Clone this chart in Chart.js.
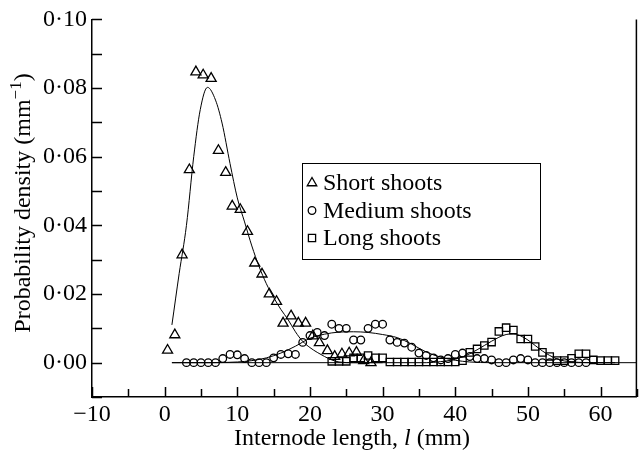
<!DOCTYPE html>
<html>
<head>
<meta charset="utf-8">
<script src="https://cdn.jsdelivr.net/npm/chart.js@4.4.1/dist/chart.umd.min.js"></script>
<style>
  html, body { margin: 0; padding: 0; background: #fff; }
</style>
</head>
<body>
<canvas id="myChart" width="644" height="452"></canvas>
<script>
// ---- data ----
var xTicks = [-10, 0, 10, 20, 30, 40, 50, 60];
var yTicks = ['0·00', '0·02', '0·04', '0·06', '0·08', '0·10'];

// short shoots (triangles)
var shortL = [0.4, 1.4, 2.4, 3.4, 4.3, 5.3, 6.4, 7.4, 8.4, 9.3, 10.4, 11.4, 12.4, 13.4, 14.4, 15.4,
    16.3, 17.4, 18.4, 19.4, 20.4, 21.3, 22.4, 23.4, 24.4, 25.4, 26.4, 27.4, 28.4];
var shortP = [0.0036, 0.0081, 0.0314, 0.0562, 0.0847, 0.0838, 0.0828, 0.0618, 0.0554, 0.0456, 0.0446,
    0.0382, 0.0290, 0.0258, 0.0200, 0.0178, 0.0115, 0.0136, 0.0115, 0.0115, 0.0078, 0.0058, 0.0035,
    0.0018, 0.0025, 0.0028, 0.0030, 0.0006, 0.0000];

// medium shoots (circles)
var mediumL = [3, 4, 5, 6, 7, 8, 9, 10, 11, 12, 13, 14, 15, 16, 17, 18, 19, 20, 21, 22, 23, 24, 25,
    26, 27, 28, 29, 30, 31, 32, 33, 34, 35, 36, 37, 38, 39, 40, 41, 42, 43, 44, 45, 46, 47, 48, 49,
    50, 51, 52, 53, 54, 55, 56, 57, 58];
var mediumP = [0, 0, 0, 0, 0, 0.0012, 0.0024, 0.0023, 0.0012, 0, 0, 0, 0.0014, 0.0024, 0.0026, 0.0024,
    0.0059, 0.0079, 0.0088, 0.0079, 0.0112, 0.0100, 0.0100, 0.0066, 0.0066, 0.0100, 0.0112, 0.0112,
    0.0066, 0.0059, 0.0057, 0.0045, 0.0028, 0.0021, 0.0014, 0.0008, 0.0012, 0.0024, 0.0028, 0.0018,
    0.0012, 0.0012, 0.0008, 0, 0, 0.0008, 0.0012, 0.0008, 0, 0, 0, 0, 0, 0, 0, 0];

// long shoots (squares)
var longL = [23, 24, 25, 26, 27, 28, 29, 30, 31, 32, 33, 34, 35, 36, 37, 38, 39, 40, 41, 42, 43, 44,
    45, 46, 47, 48, 49, 50, 51, 52, 53, 54, 55, 56, 57, 58, 59, 60, 61, 62];
var longP = [0.0004, 0.0004, 0.0004, 0.0014, 0.0014, 0.0021, 0.0014, 0.0014, 0.0002, 0.0002, 0.0002,
    0.0002, 0.0002, 0.0002, 0.0002, 0.0002, 0.0002, 0.0002, 0.0006, 0.0030, 0.0040, 0.0050, 0.0060,
    0.0091, 0.0102, 0.0095, 0.0069, 0.0069, 0.0047, 0.0030, 0.0018, 0.0006, 0.0006, 0.0013, 0.0026,
    0.0026, 0.0008, 0.0006, 0.0006, 0.0006];

// fitted curves
var shortFitL = [1, 2, 3, 4, 4.9, 5.9, 7, 7.9, 9, 10, 11, 12, 13, 14, 15, 16, 17, 18, 19, 20, 21, 22, 23, 24, 26, 30];
var shortFitP = [0.011, 0.026, 0.040, 0.060, 0.0737, 0.0802, 0.0765, 0.0698, 0.058, 0.048, 0.041, 0.034,
    0.028, 0.023, 0.019, 0.0155, 0.0125, 0.009, 0.0062, 0.0044, 0.003, 0.0018, 0.0008, 0.0002, 0, 0];

var mediumFitL = [1, 6, 10, 12, 14, 16, 18, 20, 22, 24, 26, 28, 30, 32, 34, 36, 38, 40, 42, 45, 62];
var mediumFitP = [0, 0, 0.0002, 0.0006, 0.0014, 0.0028, 0.0048, 0.0071, 0.0083, 0.0089, 0.0090, 0.0088,
    0.0082, 0.0073, 0.0054, 0.0031, 0.0016, 0.0007, 0.0002, 0, 0];

var longFitL = [1, 36, 38, 40, 42, 44, 46, 47, 48, 49, 50, 51, 52, 53, 54, 55, 57, 59, 65];
var longFitP = [0, 0, 0.0003, 0.0010, 0.0026, 0.0050, 0.0074, 0.0082, 0.0084, 0.0078, 0.0066, 0.0050,
    0.0034, 0.0021, 0.0011, 0.0005, 0.0001, 0, 0];

var seriesNames = ['Short shoots', 'Medium shoots', 'Long shoots'];

function pts(xs, ys) {
    return xs.map(function (x, i) { return { x: x, y: ys[i] }; });
}

var serif = "'Liberation Serif', 'DejaVu Serif', serif";
var FS = 24;

function fitLine(xs, ys) {
    return {
        data: pts(xs, ys),
        showLine: true,
        borderColor: '#000',
        borderWidth: 1,
        pointRadius: 0,
        cubicInterpolationMode: 'monotone',
        fill: false
    };
}

function markers(xs, ys, style, r) {
    return {
        data: pts(xs, ys),
        showLine: false,
        pointStyle: style,
        pointRadius: r,
        pointBorderColor: '#000',
        pointBorderWidth: 1.3,
        pointBackgroundColor: 'rgba(0,0,0,0)'
    };
}

// inward ticks, right frame, axis titles and boxed legend
var decorPlugin = {
    id: 'decor',
    afterDraw: function (chart) {
        var ctx = chart.ctx;
        var area = chart.chartArea;
        var xs = chart.scales.x, ys = chart.scales.y;
        ctx.save();
        ctx.strokeStyle = '#000';
        ctx.lineWidth = 1.5;
        ctx.beginPath();
        xs.ticks.forEach(function (t) {
            var px = Math.round(xs.getPixelForValue(t.value)) + 0.5;
            var len = (Math.round(t.value) % 10 === 0) ? 10 : 8;
            ctx.moveTo(px, area.bottom);
            ctx.lineTo(px, area.bottom - len);
        });
        ys.ticks.forEach(function (t) {
            var py = Math.round(ys.getPixelForValue(t.value)) + 0.5;
            ctx.moveTo(area.left, py);
            ctx.lineTo(area.left + 10, py);
        });
        // right frame
        ctx.moveTo(area.right - 0.5, area.top);
        ctx.lineTo(area.right - 0.5, area.bottom);
        ctx.stroke();

        ctx.fillStyle = '#000';
        ctx.textBaseline = 'alphabetic';

        // x title with italic l
        var p1 = 'Internode length, ', p2 = 'l', p3 = ' (mm)';
        ctx.font = FS + 'px ' + serif;
        var w1 = ctx.measureText(p1).width, w3 = ctx.measureText(p3).width;
        ctx.font = 'italic ' + FS + 'px ' + serif;
        var w2 = ctx.measureText(p2).width;
        var tx = 352 - (w1 + w2 + w3) / 2;
        var ty = 445;
        ctx.font = FS + 'px ' + serif;
        ctx.fillText(p1, tx, ty);
        ctx.font = 'italic ' + FS + 'px ' + serif;
        ctx.fillText(p2, tx + w1, ty);
        ctx.font = FS + 'px ' + serif;
        ctx.fillText(p3, tx + w1 + w2, ty);

        // y title with superscript
        var TF = 24;
        var q1 = 'Probability density (mm', q2 = '\u22121', q3 = ')';
        ctx.font = TF + 'px ' + serif;
        var v1 = ctx.measureText(q1).width, v3 = ctx.measureText(q3).width;
        var supFont = Math.round(TF * 0.7) + 'px ' + serif;
        ctx.font = supFont;
        var v2 = ctx.measureText(q2).width;
        ctx.translate(30, 203);
        ctx.rotate(-Math.PI / 2);
        var sx = -(v1 + v2 + v3) / 2;
        ctx.font = TF + 'px ' + serif;
        ctx.fillText(q1, sx, 0);
        ctx.font = supFont;
        ctx.fillText(q2, sx + v1, -9);
        ctx.font = TF + 'px ' + serif;
        ctx.fillText(q3, sx + v1 + v2, 0);
        ctx.restore();

        // legend
        ctx.save();
        var bx = 302, by = 163, bw = 238, bh = 96;
        ctx.strokeStyle = '#000';
        ctx.lineWidth = 1;
        ctx.strokeRect(bx + 0.5, by + 0.5, bw, bh);
        ctx.font = FS + 'px ' + serif;
        ctx.fillStyle = '#000';
        ctx.textBaseline = 'middle';
        ctx.lineWidth = 1.3;
        var styles = ['triangle', 'circle', 'rect'];
        seriesNames.forEach(function (name, i) {
            var cy = by + 20 + i * 27.5;
            var cx = bx + 10;
            ctx.beginPath();
            if (styles[i] === 'triangle') {
                var r = 5.5;
                ctx.moveTo(cx, cy - r);
                ctx.lineTo(cx + r * 0.866, cy + r / 2);
                ctx.lineTo(cx - r * 0.866, cy + r / 2);
                ctx.closePath();
            } else if (styles[i] === 'circle') {
                ctx.arc(cx, cy, 3.8, 0, Math.PI * 2);
            } else {
                ctx.rect(cx - 3.6, cy - 3.6, 7.2, 7.2);
            }
            ctx.stroke();
            ctx.fillText(name, cx + 11, cy + 1);
        });
        ctx.restore();
    }
};

var config = {
    type: 'scatter',
    data: {
        datasets: [
            fitLine(shortFitL, shortFitP),
            fitLine(mediumFitL, mediumFitP),
            fitLine(longFitL, longFitP),
            markers(shortL, shortP, 'triangle', 5.8),
            markers(mediumL, mediumP, 'circle', 3.8),
            markers(longL, longP, 'rect', 5.2)
        ]
    },
    options: {
        responsive: false,
        animation: false,
        devicePixelRatio: 1,
        layout: { padding: { top: 15, right: 2, left: 0, bottom: 0 } },
        plugins: {
            legend: { display: false },
            tooltip: { enabled: false }
        },
        scales: {
            x: {
                type: 'linear',
                min: -10,
                max: 65,
                afterFit: function (s) { s.height = 55; },
                grid: { display: false, drawTicks: false },
                border: { display: true, color: '#000', width: 1.5 },
                ticks: {
                    stepSize: 5,
                    autoSkip: false,
                    maxRotation: 0,
                    padding: 3,
                    color: '#000',
                    font: { family: serif, size: FS },
                    callback: function (v) {
                        var n = Math.round(v);
                        if (xTicks.indexOf(n) < 0) return '';
                        return n < 0 ? '\u2212' + Math.abs(n) : String(n);
                    }
                }
            },
            y: {
                min: -0.01,
                max: 0.10,
                afterFit: function (s) { s.width = 92; },
                grid: { display: false, drawTicks: false },
                border: { display: true, color: '#000', width: 1.5 },
                ticks: {
                    stepSize: 0.01,
                    autoSkip: false,
                    padding: 5,
                    color: '#000',
                    font: { family: serif, size: FS },
                    callback: function (v) {
                        var n = Math.round(v * 100);
                        if (n < 0 || n % 2 !== 0) return '';
                        return yTicks[n / 2];
                    }
                }
            }
        }
    },
    plugins: [decorPlugin]
};

const myChart = new Chart(document.getElementById('myChart'), config);
</script>
</body>
</html>
